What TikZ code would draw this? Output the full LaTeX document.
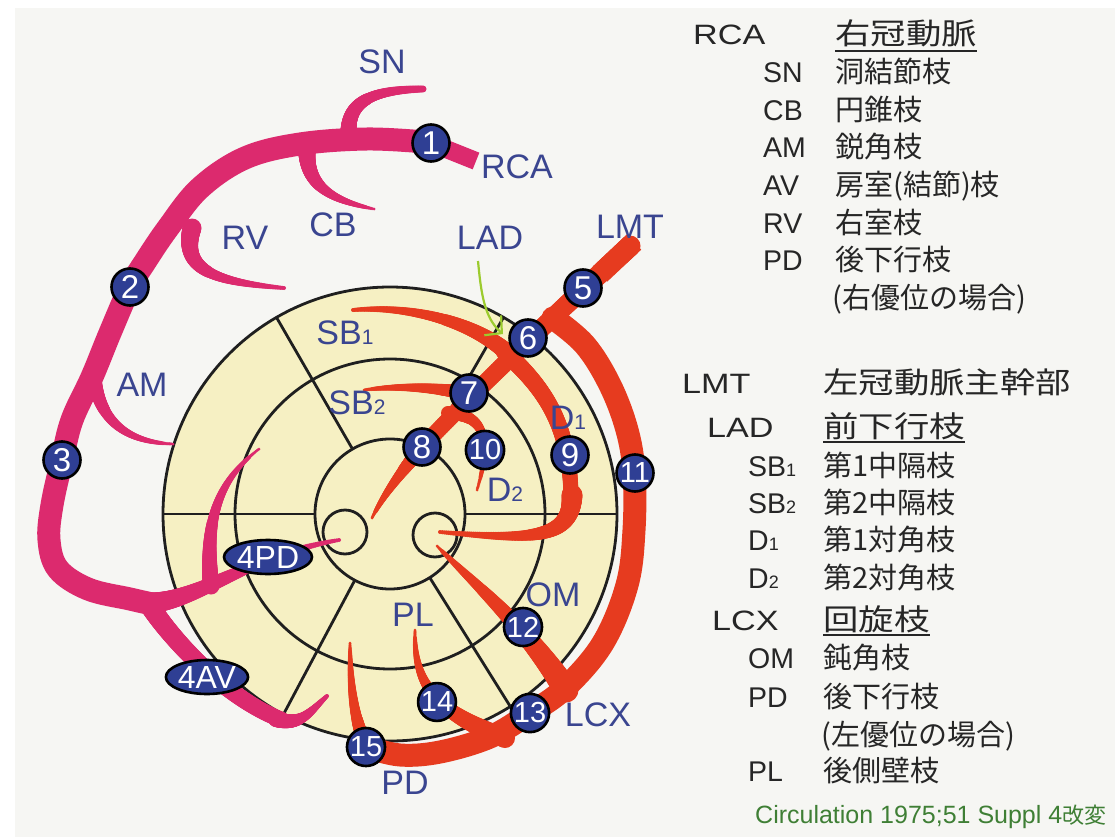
\documentclass[tikz,border=0pt]{standalone}
\usepackage{fontspec}
\setmainfont{Liberation Sans}
\newfontfamily\jp{Noto Sans CJK JP}
\newfontfamily\jph[FakeStretch=1.2]{Noto Sans CJK JP}
\newfontfamily\hdl[FakeStretch=1.22]{Liberation Sans}
\usetikzlibrary{shapes.geometric,arrows.meta,calc}
\definecolor{mg}{HTML}{DC2A6E}
\definecolor{rd}{HTML}{E63B1F}
\definecolor{nb}{HTML}{2F3F94}
\definecolor{lb}{HTML}{3A4590}
\definecolor{yl}{HTML}{F6F0C3}
\definecolor{tx}{HTML}{262626}
\definecolor{gt}{HTML}{3F7F35}
\definecolor{ga}{HTML}{9CCB2E}
\definecolor{pg}{HTML}{F6F6F3}
\newcommand\smd[1]{{\fontsize{21}{21}\selectfont #1}}
\newcommand\smb[1]{{\fontsize{18}{18}\selectfont #1}}
% tapered vessel along a cubic Bezier: colour, start width, end width, P0, P1, P2, P3
\newcommand\vsl[7]{%
  \coordinate (vA) at (#4); \coordinate (vB) at (#5);
  \coordinate (vC) at (#6); \coordinate (vD) at (#7);
  \foreach \i in {0,...,120}{%
    \pgfmathsetmacro\vt{\i/120}%
    \pgfmathsetmacro\vr{0.5*(#2+(#3-#2)*\vt)}%
    \coordinate (vq1) at ($(vA)!\vt!(vB)$);
    \coordinate (vq2) at ($(vB)!\vt!(vC)$);
    \coordinate (vq3) at ($(vC)!\vt!(vD)$);
    \coordinate (vr1) at ($(vq1)!\vt!(vq2)$);
    \coordinate (vr2) at ($(vq2)!\vt!(vq3)$);
    \fill[#1] ($(vr1)!\vt!(vr2)$) circle[radius=\vr pt];
  }}
\tikzset{
 lbl/.style={text=lb, font=\fontsize{34}{34}\selectfont, inner sep=0pt},
 num/.style={circle, fill=nb, draw=black, line width=2.6pt, minimum size=37pt, inner sep=0pt, text=white, font=\fontsize{33}{33}\selectfont},
 numw/.style={num, font=\fontsize{29}{29}\selectfont},
 oval/.style={ellipse, fill=nb, draw=black, line width=2.6pt, minimum width=80pt, minimum height=34pt, inner sep=0pt, text=white, font=\fontsize{32}{32}\selectfont},
 ringline/.style={black!88, line width=2.8pt},
 hd/.style={anchor=base west, inner sep=0pt, text=tx, font=\hdl\fontsize{28}{28}\selectfont},
 hj/.style={anchor=base west, inner sep=0pt, text=tx, font=\jph\fontsize{29.5}{29.5}\selectfont},
 itm/.style={anchor=base west, inner sep=0pt, text=tx, font=\fontsize{28.5}{28.5}\selectfont},
 ij/.style={anchor=base west, inner sep=0pt, text=tx, font=\jp\fontsize{29}{29}\selectfont},
 uline/.style={tx, line width=1.8pt},
 trunk/.style={line cap=round, line join=round},
}
\begin{document}
\begin{tikzpicture}[x=1pt,y=-1pt]
\fill[white] (0,0) rectangle (1115,837);
\fill[pg] (15,8) rectangle (1115,837);
\useasboundingbox (0,0) rectangle (1115,837);
% ---- bull's eye
\coordinate (C) at (390,514);
\fill[yl] (C) circle[radius=227pt];
\draw[ringline] (C) circle[radius=227pt] (C) circle[radius=155pt] (C) circle[radius=75pt];
\foreach \a in {0,60,120,180,242,302}
  \draw[ringline] ($(C)+(-\a:75)$) -- ($(C)+(-\a:227)$);
\draw[ringline] (345,532) circle[radius=22pt] (435,535) circle[radius=22pt];
% ---- RCA (magenta)
\draw[mg, line width=18pt] (431,143) -- (476,161);
\draw[mg, line width=23pt, trunk] plot[smooth, tension=0.6] coordinates {(425,142) (367,139) (300,144) (245,158) (200,188) (168,228) (145,262) (130,287) (110,333) (92,377) (72,420) (62,460) (52,505) (49,540) (58,569) (88,589) (130,599) (152,604)};
\vsl{mg}{17}{7}{349,140}{345,105}{365,90}{423,89}
\vsl{mg}{18}{3}{307,147}{305,185}{330,200}{374,209}
\vsl{mg}{19}{4}{192,228}{180,270}{215,282}{284,288}
\vsl{mg}{15}{3}{94,378}{100,420}{125,442}{173,444}
\vsl{mg}{21}{4}{150,603}{200,600}{250,555}{339,540}
\vsl{mg}{17}{3}{211,586}{206,530}{212,485}{259,449}
\vsl{mg}{20}{16}{148,603}{175,645}{230,700}{282,720}
\vsl{mg}{16}{4}{276,719}{300,727}{310,712}{327,696}
% ---- LCA (red)
\draw[rd, line width=21pt] (634,242) -- (600,274);
\vsl{rd}{21}{16}{630,246}{580,292}{500,365}{422,447}
\vsl{rd}{16}{3}{422,447}{405,468}{385,492}{372,518}
\draw[rd, line width=23pt, trunk] plot[smooth, tension=0.6] coordinates {(553,318) (585,345) (610,385) (627,430) (634,473) (634,530) (627,585) (603,643) (565,688) (530,713) (490,737) (440,752) (400,755) (367,747)};
\vsl{rd}{4}{18}{353,310}{410,305}{475,322}{510,355}
\vsl{rd}{18}{15}{505,352}{540,385}{572,420}{571,505}
\vsl{rd}{21}{4}{572,495}{572,540}{530,540}{440,532}
\vsl{rd}{3}{15}{364,390}{400,385}{440,388}{470,394}
\vsl{rd}{14}{3}{448,413}{485,415}{492,440}{477,490}
\vsl{rd}{3}{25}{437,546}{470,580}{525,625}{566,690}
\vsl{rd}{3}{20}{415,630}{414,680}{430,710}{505,738}
\vsl{rd}{3}{15}{350,643}{350,680}{353,720}{367,747}
% ---- green arrow
\coordinate (ga0) at (478,261);
\coordinate (ga1) at (503,334);
\draw[ga, line width=2.2pt, -{Straight Barb[length=12pt,width=26pt,line width=2.2pt]}] (ga0) .. controls (481,292) and (484,318) .. (ga1);
% ---- numbered nodes
\node[num] (n1) at (431,143) {1};
\node[num] (n2) at (130,287) {2};
\node[num] (n3) at (62,460) {3};
\node[oval] (n4pd) at (268,557) {4PD};
\node[oval] (n4av) at (207,677) {4AV};
\node[num] (n5) at (583,288) {5};
\node[num] (n6) at (528,338) {6};
\node[num] (n7) at (469,393) {7};
\node[num] (n8) at (422,447) {8};
\node[num] (n9) at (570,455) {9};
\node[numw] (n10) at (485,450) {10};
\node[numw] (n11) at (635,473) {11};
\node[numw] (n12) at (523,627) {12};
\node[numw] (n13) at (530,713) {13};
\node[numw] (n14) at (437,702) {14};
\node[numw] (n15) at (366,747) {15};
% ---- diagram labels
\node[lbl] (lSN) at (382,62) {SN};
\node[lbl] (lRCA) at (517,167) {RCA};
\node[lbl] (lCB) at (333,225) {CB};
\node[lbl] (lRV) at (245,238) {RV};
\node[lbl] (lLAD) at (490,238) {LAD};
\node[lbl] (lLMT) at (630,227) {LMT};
\node[lbl] (lAM) at (142,385) {AM};
\node[lbl] (lSBa) at (345,333) {SB\smd{1}};
\node[lbl] (lSBb) at (357,403) {SB\smd{2}};
\node[lbl] (lDa) at (568,418) {D\smd{1}};
\node[lbl] (lDb) at (505,490) {D\smd{2}};
\node[lbl] (lOM) at (553,595) {OM};
\node[lbl] (lPL) at (413,615) {PL};
\node[lbl] (lLCX) at (598,715) {LCX};
\node[lbl] (lPD) at (405,783) {PD};
% ---- legend, RCA block
\node[hd] (hRCA) at (693,45) {RCA};
\node[hj] (jRCA) at (835,45) {右冠動脈};
\draw[uline] ([yshift=-6pt]jRCA.base west) -- ([yshift=-6pt]jRCA.base east);
\node[itm] (aSN) at (763,83) {SN};     \node[ij] (bSN) at (835,83) {洞結節枝};
\node[itm] (aCB) at (763,120.5) {CB};  \node[ij] (bCB) at (835,120.5) {円錐枝};
\node[itm] (aAM) at (763,158) {AM};    \node[ij] (bAM) at (835,158) {鋭角枝};
\node[itm] (aAV) at (763,195.5) {AV};  \node[ij] (bAV) at (835,195.5) {房室(結節)枝};
\node[itm] (aRV) at (763,233) {RV};    \node[ij] (bRV) at (835,233) {右室枝};
\node[itm] (aPD) at (763,270.5) {PD};  \node[ij] (bPD) at (835,270.5) {後下行枝};
\node[ij] (bPDr) at (832,308) {(右優位の場合)};
% ---- legend, LCA block
\node[hd] (hLMT) at (682,393) {LMT};
\node[hj] (jLMT) at (823,393) {左冠動脈主幹部};
\node[hd] (hLAD) at (707,437) {LAD};
\node[hj] (jLAD) at (823,437) {前下行枝};
\draw[uline] ([yshift=-5pt]jLAD.base west) -- ([yshift=-5pt]jLAD.base east);
\node[itm] (aSBa) at (748,476) {SB\smb{1}}; \node[ij] (bSBa) at (823,476) {第1中隔枝};
\node[itm] (aSBb) at (748,513) {SB\smb{2}}; \node[ij] (bSBb) at (823,513) {第2中隔枝};
\node[itm] (aDa) at (748,550) {D\smb{1}};   \node[ij] (bDa) at (823,550) {第1対角枝};
\node[itm] (aDb) at (748,588) {D\smb{2}};   \node[ij] (bDb) at (823,588) {第2対角枝};
\node[hd] (hLCX) at (712,630) {LCX};
\node[hj] (jLCX) at (823,630) {回旋枝};
\draw[uline] ([yshift=-5pt]jLCX.base west) -- ([yshift=-5pt]jLCX.base east);
\node[itm] (aOM) at (748,668) {OM};  \node[ij] (bOM) at (823,668) {鈍角枝};
\node[itm] (aPDl) at (748,707) {PD}; \node[ij] (bPDl) at (823,707) {後下行枝};
\node[ij] (bPDq) at (821,745) {(左優位の場合)};
\node[itm] (aPL) at (748,781) {PL};  \node[ij] (bPL) at (823,781) {後側壁枝};
\node[anchor=base west, inner sep=0pt, text=gt, font=\fontsize{25}{25}\selectfont] (src) at (755,823) {Circulation 1975;51 Suppl 4{\jp\fontsize{22}{22}\selectfont 改変}};
\end{tikzpicture}
\end{document}
